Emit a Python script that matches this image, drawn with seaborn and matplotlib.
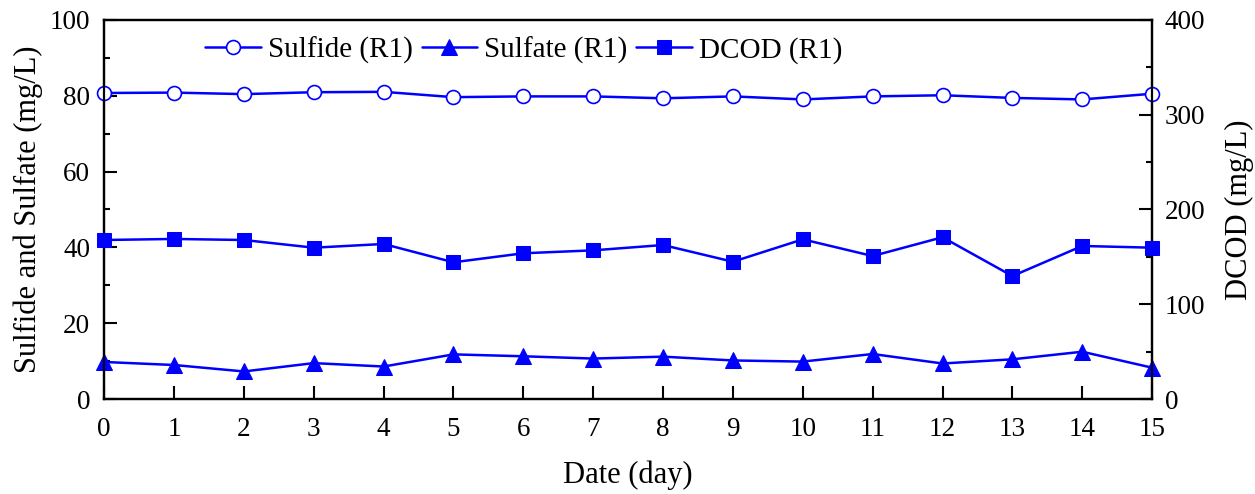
import numpy as np
import pandas as pd
import matplotlib
matplotlib.use("Agg")
import matplotlib.pyplot as plt
from matplotlib.ticker import MultipleLocator
import seaborn as sns

days = list(range(16))
sulfide = [80.7, 80.8, 80.4, 80.9, 81.0, 79.6, 79.8, 79.8, 79.3, 79.8, 79.0, 79.8, 80.1, 79.4, 79.0, 80.5]
sulfate = [9.8, 9.0, 7.3, 9.5, 8.6, 11.8, 11.3, 10.7, 11.2, 10.2, 9.9, 11.9, 9.4, 10.5, 12.5, 8.3]
dcod = [167.8, 168.9, 167.8, 159.7, 163.6, 144.3, 153.8, 156.9, 162.5, 144.9, 168.5, 150.9, 170.7, 129.8, 161.5, 159.7]

df = pd.DataFrame({"day": days, "sulfide": sulfide, "sulfate": sulfate, "dcod": dcod})

sns.set_style("ticks")
plt.rcParams["font.family"] = ["Liberation Serif", "DejaVu Serif"]
plt.rcParams["text.color"] = "black"
plt.rcParams["axes.labelcolor"] = "black"
plt.rcParams["xtick.color"] = "black"
plt.rcParams["ytick.color"] = "black"

blue = "#0000FF"
fs = 22
tfs = 19.5

fig, ax = plt.subplots(figsize=(12.55, 4.94), dpi=100)
fig.subplots_adjust(left=0.083, right=0.918, top=0.96, bottom=0.192)
ax2 = ax.twinx()

sns.lineplot(data=df, x="day", y="sulfide", ax=ax, color=blue, lw=1.8,
             marker="o", markersize=10, markerfacecolor="white",
             markeredgecolor=blue, markeredgewidth=1.2, label="Sulfide (R1)",
             clip_on=False, zorder=5)
sns.lineplot(data=df, x="day", y="sulfate", ax=ax, color=blue, lw=1.8,
             marker="^", markersize=11, markerfacecolor=blue,
             markeredgecolor=blue, label="Sulfate (R1)", clip_on=False, zorder=5)
sns.lineplot(data=df, x="day", y="dcod", ax=ax2, color=blue, lw=1.8,
             marker="s", markersize=9.5, markerfacecolor=blue,
             markeredgecolor=blue, label="DCOD (R1)", clip_on=False, zorder=5)

ax.set_xlim(0, 15)
ax.set_ylim(0, 100)
ax2.set_ylim(0, 400)
ax.set_xticks(days)
ax.yaxis.set_major_locator(MultipleLocator(20))
ax.yaxis.set_minor_locator(MultipleLocator(10))
ax2.yaxis.set_major_locator(MultipleLocator(100))
ax2.yaxis.set_minor_locator(MultipleLocator(50))

ax.set_xlabel("Date (day)", fontsize=fs, labelpad=13)
ax.set_ylabel("Sulfide and Sulfate (mg/L)", fontsize=fs, labelpad=5)
ax2.set_ylabel("DCOD (mg/L)", fontsize=fs, labelpad=14)

for a in (ax, ax2):
    a.tick_params(axis="both", which="major", direction="in", length=9.5, width=1.5,
                  labelsize=tfs)
    a.tick_params(axis="both", which="minor", direction="in", length=4.5, width=1.5)
    for s in a.spines.values():
        s.set_linewidth(1.6)
        s.set_color("black")
        s.set_visible(True)
ax.tick_params(axis="x", which="major", pad=13)
ax.tick_params(axis="y", which="major", pad=10)
ax2.tick_params(axis="y", which="major", pad=9)

h1, l1 = ax.get_legend_handles_labels()
h2, l2 = ax2.get_legend_handles_labels()
if ax2.get_legend() is not None:
    ax2.get_legend().remove()
ax.legend(h1 + h2, l1 + l2, ncol=3, frameon=False, fontsize=fs - 1,
          loc="upper left", bbox_to_anchor=(0.077, 1.01), handlelength=1.9,
          handletextpad=0.25, columnspacing=0.3, borderaxespad=0.3)

fig.savefig("out.png", dpi=100)
